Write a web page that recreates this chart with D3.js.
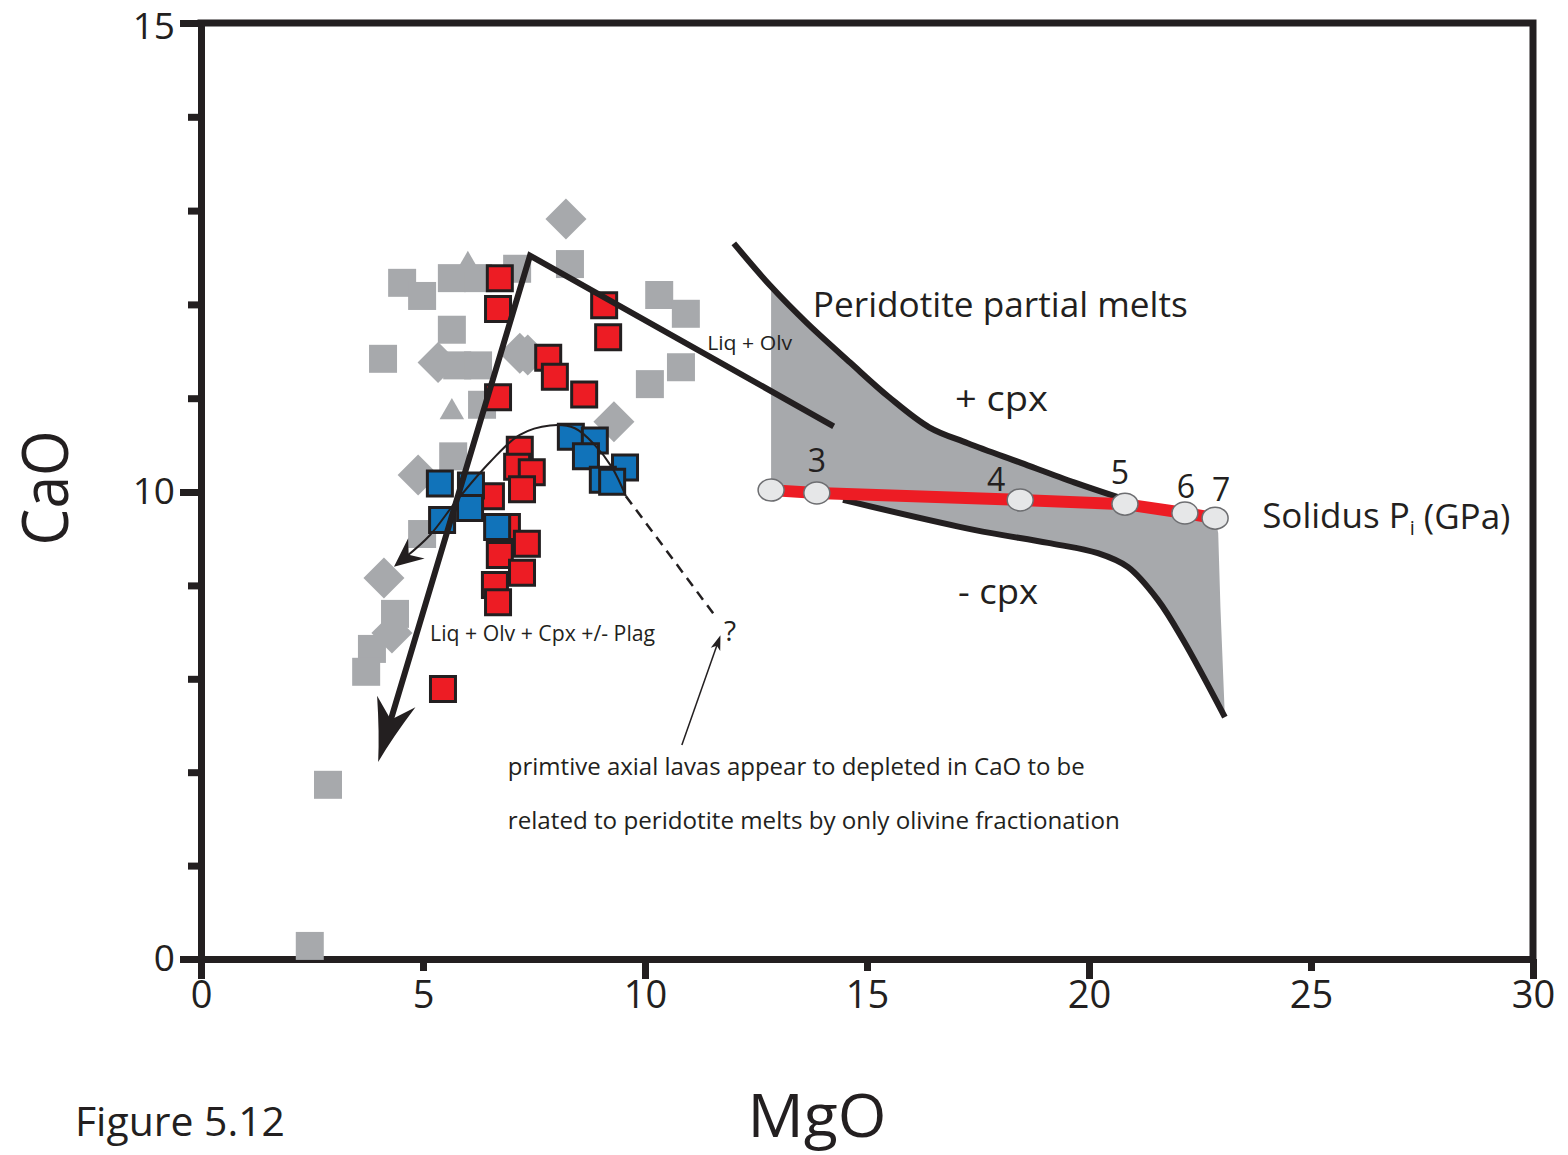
<!DOCTYPE html>
<html>
<head>
<meta charset="utf-8">
<script src="https://cdn.jsdelivr.net/npm/d3@7"></script>
<style>
  body { margin: 0; background: #fff; }
  text { font-family: "Open Sans", sans-serif; fill: #231f20; }
</style>
</head>
<body>
<svg id="chart" width="1568" height="1155"></svg>
<script>
// MgO (x) vs CaO (y), wt%

const graySquares = [
  [4.53, 12.23], [4.98, 12.09], [5.65, 11.73], [4.10, 11.42], [5.65, 12.28], [6.24, 12.28],
  [7.12, 12.38], [8.31, 12.43], [10.32, 12.10], [10.92, 11.90], [10.11, 11.15], [10.81, 11.33],
  [5.77, 11.35], [6.24, 11.35], [6.33, 10.93], [5.68, 10.38], [4.98, 9.10], [4.37, 7.39],
  [3.85, 6.64], [3.72, 6.15], [2.86, 3.73], [2.45, 0.28]
];
const grayDiamonds = [
  [8.22, 12.91], [5.34, 11.38], [7.18, 11.48], [7.36, 11.46], [9.30, 10.75], [4.89, 10.18],
  [4.12, 8.16], [4.30, 6.98]
];
const grayTriangles = [[6.01, 12.42], [5.65, 10.85]];

const redSquares = [
  [6.73, 12.28], [6.69, 11.95], [9.08, 11.99], [9.17, 11.65], [7.82, 11.43], [7.97, 11.23],
  [8.63, 11.04], [6.69, 11.01], [7.18, 10.45], [7.12, 10.27], [7.45, 10.21], [7.23, 10.03],
  [6.53, 9.91], [6.89, 9.25], [7.34, 8.89], [6.73, 8.65], [7.23, 8.27], [6.62, 8.01],
  [6.69, 7.64], [5.45, 5.78]
];
const blueSquares = [
  [5.38, 10.09], [6.08, 10.07], [6.06, 9.66], [5.43, 9.40], [6.67, 9.25], [8.33, 10.59],
  [8.87, 10.55], [8.67, 10.38], [9.55, 10.26], [9.05, 10.13], [9.26, 10.11]
];

// fractionation paths
const olvTrend = [[14.25, 10.70], [7.41, 12.52], [3.99, 4.22]];
const cpxTrend = [
  [4.59, 8.59], [5.16, 9.08], [5.77, 9.83], [6.51, 10.32], [7.18, 10.61], [7.86, 10.71],
  [8.42, 10.68], [8.87, 10.50], [9.26, 10.26], [9.57, 9.91]
];
const cpxDashed = [[9.57, 9.91], [11.60, 7.32]];
const noteArrow = [[10.83, 4.58], [11.64, 6.77]];

// peridotite partial melt field
const upperBound = [
  [12.00, 12.65], [12.84, 12.19], [13.65, 11.80], [14.62, 11.38], [15.50, 11.01], [16.40, 10.69],
  [17.27, 10.52], [18.47, 10.31], [19.68, 10.10], [20.65, 9.89]
];
const lowerBound = [
  [14.46, 9.83], [17.41, 9.19], [19.08, 8.91], [20.20, 8.69], [20.88, 8.39], [21.55, 7.69],
  [22.12, 6.83], [23.06, 5.18]
];
const fieldRightEdge = [[22.91, 9.12], [22.96, 7.54]];
const solidus = [
  [12.84, 10.02], [13.87, 9.98], [18.45, 9.83], [20.81, 9.74], [22.16, 9.55], [22.84, 9.44]
];
const solidusLabels = ["", "3", "4", "5", "6", "7"];

const xTicks = [0, 5, 10, 15, 20, 25, 30];
const yTicks = [0, 2, 4, 6, 8, 10, 11, 12, 13, 14, 15];
const yTickLabels = [0, 10, 15];

const ink = "#231f20";
const svg = d3.select("#chart");

const x = d3.scaleLinear().domain([0, 30]).range([201, 1533]);
const y = d3.scaleLinear().domain([0, 10, 15]).range([959, 492, 23]);

const line = d3.line().x(d => x(d[0])).y(d => y(d[1]));
const smooth = d3.line().x(d => x(d[0])).y(d => y(d[1])).curve(d3.curveCatmullRom);

// arrow heads
const defs = svg.append("defs");
defs.append("marker").attr("id", "bigHead")
  .attr("markerUnits", "userSpaceOnUse").attr("orient", "auto")
  .attr("viewBox", "-70 -25 80 50").attr("markerWidth", 80).attr("markerHeight", 50)
  .attr("refX", -40).attr("refY", 0)
  .append("path").attr("d", "M0,0 Q-28,-7 -63,-20 L-44,0 L-63,20 Q-28,7 0,0 Z").attr("fill", ink);
defs.append("marker").attr("id", "smallHead")
  .attr("markerUnits", "userSpaceOnUse").attr("orient", "auto-start-reverse")
  .attr("viewBox", "-32 -16 42 32").attr("markerWidth", 42).attr("markerHeight", 32)
  .attr("refX", -14).attr("refY", 0)
  .append("path").attr("d", "M0,0 L-29,-13 L-19,0 L-29,13 Z").attr("fill", ink);
defs.append("marker").attr("id", "tinyHead")
  .attr("markerUnits", "userSpaceOnUse").attr("orient", "auto")
  .attr("viewBox", "-16 -6 20 12").attr("markerWidth", 20).attr("markerHeight", 12)
  .attr("refX", -8).attr("refY", 0)
  .append("path").attr("d", "M0,0 L-15,-5 L-11,0 L-15,5 Z").attr("fill", ink);

// grey melt field
const topD = smooth(upperBound.slice(1));
const lowD = smooth(lowerBound.slice().reverse());
const pt = p => "L" + x(p[0]) + "," + y(p[1]);
const fieldD = topD
  + solidus.slice(3).map(pt).join("")
  + fieldRightEdge.map(pt).join("")
  + lowD.replace(/^M/, "L")
  + pt(solidus[1]) + pt(solidus[0]) + "Z";
svg.append("path").attr("d", fieldD).attr("fill", "#a7a9ac");

// axes
const gx = svg.append("g").attr("transform", `translate(0,${y(0)})`)
  .call(d3.axisBottom(x).tickValues(xTicks).tickSize(12).tickSizeOuter(0).tickFormat(d3.format("d")));
gx.selectAll(".tick line").attr("y2", d => d % 10 === 0 ? 20 : 12);
gx.selectAll(".tick text").attr("y", 22).attr("font-size", 38);

const gy = svg.append("g").attr("transform", `translate(${x(0)},0)`)
  .call(d3.axisLeft(y).tickValues(yTicks).tickSize(13).tickSizeOuter(0)
    .tickFormat(d => yTickLabels.includes(d) ? d : ""));
gy.selectAll(".tick line").attr("x2", d => yTickLabels.includes(d) ? -21 : -13);
gy.selectAll(".tick text").attr("x", -26).attr("font-size", 37)
  .attr("dy", d => d === 15 ? "0.42em" : "0.32em");

svg.selectAll(".domain, .tick line").attr("stroke", ink).attr("stroke-width", 7);
svg.selectAll(".tick text").attr("fill", ink).style("font-family", '"Open Sans", sans-serif');

// frame top and right
svg.append("path")
  .attr("d", `M${x(0)},${y(15)}H${x(30)}V${y(0)}`)
  .attr("fill", "none").attr("stroke", ink).attr("stroke-width", 7)
  .attr("stroke-linecap", "square");

// data points
const sq = s => d3.symbol().type(d3.symbolSquare).size(s * s)();
svg.append("g").selectAll("path").data(graySquares).join("path")
  .attr("d", sq(28)).attr("fill", "#a7a9ac")
  .attr("transform", d => `translate(${x(d[0])},${y(d[1])})`);
svg.append("g").selectAll("path").data(grayDiamonds).join("path")
  .attr("d", sq(29)).attr("fill", "#a7a9ac")
  .attr("transform", d => `translate(${x(d[0])},${y(d[1])}) rotate(45)`);
svg.append("g").selectAll("path").data(grayTriangles).join("path")
  .attr("d", d3.symbol().type(d3.symbolTriangle).size(260)()).attr("fill", "#a7a9ac")
  .attr("transform", d => `translate(${x(d[0])},${y(d[1])})`);
svg.append("g").selectAll("path").data(redSquares).join("path")
  .attr("d", sq(25)).attr("fill", "#ed1c24").attr("stroke", ink).attr("stroke-width", 3)
  .attr("transform", d => `translate(${x(d[0])},${y(d[1])})`);
svg.append("g").selectAll("path").data(blueSquares).join("path")
  .attr("d", sq(25)).attr("fill", "#1173ba").attr("stroke", ink).attr("stroke-width", 3)
  .attr("transform", d => `translate(${x(d[0])},${y(d[1])})`);

// trends
svg.append("path").attr("d", smooth(cpxTrend))
  .attr("fill", "none").attr("stroke", ink).attr("stroke-width", 2)
  .attr("marker-start", "url(#smallHead)");
svg.append("path").attr("d", line(cpxDashed))
  .attr("fill", "none").attr("stroke", ink).attr("stroke-width", 2.5)
  .attr("stroke-dasharray", "10,7");
svg.append("path").attr("d", line(noteArrow))
  .attr("fill", "none").attr("stroke", ink).attr("stroke-width", 1.5)
  .attr("marker-end", "url(#tinyHead)");

// Liq + Olv path, last segment shortened so the head carries the tip
const olvPx = olvTrend.map(d => [x(d[0]), y(d[1])]);
const [ax, ay] = olvPx[1], [bx, by] = olvPx[2];
const segLen = Math.hypot(bx - ax, by - ay);
olvPx[2] = [bx - (bx - ax) * 40 / segLen, by - (by - ay) * 40 / segLen];
svg.append("path").attr("d", d3.line()(olvPx))
  .attr("fill", "none").attr("stroke", ink).attr("stroke-width", 6)
  .attr("stroke-linejoin", "miter").attr("marker-end", "url(#bigHead)");

// field boundaries
svg.append("path").attr("d", smooth(upperBound))
  .attr("fill", "none").attr("stroke", ink).attr("stroke-width", 6);
svg.append("path").attr("d", smooth(lowerBound))
  .attr("fill", "none").attr("stroke", ink).attr("stroke-width", 6);

// solidus
svg.append("path").attr("d", line(solidus))
  .attr("fill", "none").attr("stroke", "#ed1c24").attr("stroke-width", 12);
svg.append("g").selectAll("ellipse").data(solidus).join("ellipse")
  .attr("cx", d => x(d[0])).attr("cy", d => y(d[1]))
  .attr("rx", 13).attr("ry", 11)
  .attr("fill", "#e6e7e8").attr("stroke", "#6d6e71").attr("stroke-width", 1.5);

const labelOffset = [[0, 0], [0, -33], [-24, -21], [-5, -33], [1, -28], [6, -30]];
svg.append("g").selectAll("text").data(solidus).join("text")
  .attr("x", (d, i) => x(d[0]) + labelOffset[i][0])
  .attr("y", (d, i) => y(d[1]) + labelOffset[i][1])
  .attr("text-anchor", "middle").attr("dominant-baseline", "central")
  .attr("font-size", 32)
  .text((d, i) => solidusLabels[i]);

// annotations
function note(str, xd, yd, size, len) {
  const t = svg.append("text")
    .attr("x", x(xd)).attr("y", y(yd))
    .attr("font-size", size).attr("dominant-baseline", "central")
    .text(str);
  if (len) t.attr("textLength", len).attr("lengthAdjust", "spacingAndGlyphs");
  return t;
}
note("Peridotite partial melts", 13.78, 12.01, 35, 375);
note("+ cpx", 16.98, 11.01, 35, 93);
note("- cpx", 17.05, 7.90, 35, 80);
note("Liq + Olv", 11.40, 11.59, 20, 85);
note("Liq + Olv + Cpx +/- Plag", 5.16, 6.98, 21, 225);
note("?", 11.78, 7.04, 28);
note("primtive axial lavas appear to depleted in CaO to be", 6.91, 4.15, 24, 577);
note("related to peridotite melts by only olivine fractionation", 6.91, 2.98, 24, 612);

const sol = note("Solidus P", 23.90, 9.51, 35);
sol.append("tspan").attr("font-size", 20).attr("dy", 12).text("i");
sol.append("tspan").attr("dy", -12).attr("dx", 9).text("(GPa)");

// axis titles
svg.append("text").attr("x", 817).attr("y", 1137)
  .attr("text-anchor", "middle")
  .attr("font-size", 60).attr("textLength", 139).attr("lengthAdjust", "spacingAndGlyphs")
  .text("MgO");
svg.append("text").attr("transform", "translate(43,488) rotate(-90)")
  .attr("text-anchor", "middle").attr("dominant-baseline", "central")
  .attr("font-size", 64).attr("textLength", 115).attr("lengthAdjust", "spacingAndGlyphs")
  .text("CaO");
svg.append("text").attr("x", 75).attr("y", 1120)
  .attr("dominant-baseline", "central")
  .attr("font-size", 40).attr("textLength", 210).attr("lengthAdjust", "spacingAndGlyphs")
  .text("Figure 5.12");
</script>
</body>
</html>
